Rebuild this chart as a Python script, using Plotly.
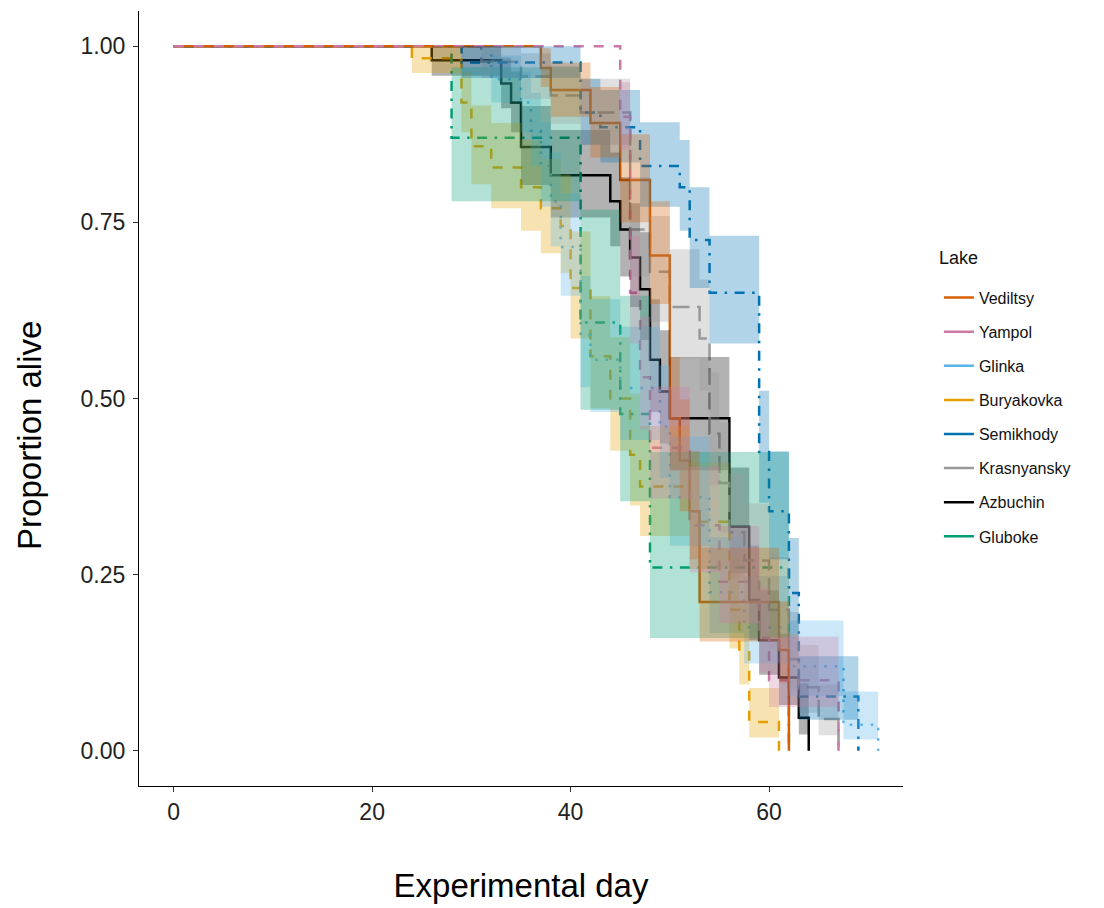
import plotly.graph_objects as go

# Kaplan-Meier survival by lake: step estimates with 95% confidence bands
lakes = ["Vediltsy", "Yampol", "Glinka", "Buryakovka",
         "Semikhody", "Krasnyansky", "Azbuchin", "Gluboke"]

lake_colors = ["#D55E00", "#CC79A7", "#56B4E9", "#E69F00",
               "#0072B2", "#999999", "#000000", "#009E73"]

vediltsy_day = [0, 37, 38, 42, 45, 48, 50, 51, 52, 53, 61, 62]
vediltsy_surv = [1, 0.969, 0.938, 0.891, 0.81, 0.703, 0.472, 0.412, 0.34, 0.211, 0.143, 0]
vediltsy_lower = [1, 0.942, 0.900, 0.842, 0.750, 0.634, 0.398, 0.340, 0.272, 0.155, 0.097, None]
vediltsy_upper = [1, 0.997, 0.977, 0.942, 0.875, 0.780, 0.559, 0.499, 0.425, 0.288, 0.212, None]

yampol_day = [0, 45, 46, 47, 48, 52, 55, 59, 60, 67]
yampol_surv = [1, 0.90, 0.65, 0.53, 0.43, 0.32, 0.24, 0.16, 0.10, 0]
yampol_lower = [1, 0.853, 0.578, 0.456, 0.358, 0.253, 0.181, 0.111, 0.062, None]
yampol_upper = [1, 0.949, 0.731, 0.616, 0.517, 0.404, 0.319, 0.231, 0.162, None]

glinka_day = [0, 32, 35, 36, 37, 38, 39, 41, 42, 45, 49, 50, 54, 57.5, 62, 67.5, 71]
glinka_surv = [1, 0.953, 0.92, 0.88, 0.83, 0.78, 0.715, 0.59, 0.555, 0.515, 0.46, 0.36,
               0.225, 0.175, 0.12, 0.037, 0]
glinka_lower = [1, 0.920, 0.878, 0.830, 0.772, 0.716, 0.646, 0.516, 0.481, 0.441, 0.387, 0.291,
                0.167, 0.124, 0.078, 0.016, None]
glinka_upper = [1, 0.987, 0.964, 0.934, 0.892, 0.849, 0.791, 0.674, 0.641, 0.602, 0.547, 0.446,
                0.303, 0.248, 0.185, 0.084, None]

buryakovka_day = [0, 24, 29, 30, 32, 35, 37, 39, 40, 42, 44, 46, 47, 52, 56, 57, 58, 61]
buryakovka_surv = [1, 0.983, 0.92, 0.858, 0.828, 0.80, 0.77, 0.745, 0.657, 0.56, 0.50, 0.42,
                   0.375, 0.325, 0.20, 0.14, 0.041, 0]
buryakovka_lower = [1, 0.962, 0.878, 0.804, 0.770, 0.738, 0.706, 0.678, 0.585, 0.486, 0.426,
                    0.348, 0.305, 0.258, 0.145, 0.094, 0.019, None]
buryakovka_upper = [1, 1.0, 0.964, 0.916, 0.891, 0.867, 0.840, 0.818, 0.737, 0.645, 0.587,
                    0.507, 0.461, 0.409, 0.275, 0.208, 0.089, None]

semikhody_day = [0, 29, 41, 43, 47, 51, 52, 54, 59, 60, 62, 63, 69]
semikhody_surv = [1, 0.977, 0.906, 0.885, 0.83, 0.80, 0.725, 0.65, 0.424, 0.34, 0.224, 0.077, 0]
semikhody_lower = [1, 0.955, 0.860, 0.835, 0.772, 0.738, 0.657, 0.578, 0.352, 0.272, 0.166,
                   0.044, None]
semikhody_upper = [1, 1.0, 0.954, 0.938, 0.892, 0.867, 0.800, 0.731, 0.511, 0.425, 0.302,
                   0.134, None]

krasnyansky_day = [0, 31, 35, 38, 41, 46, 48, 50, 53, 54, 55, 56, 57.5, 60, 62, 63, 65, 67]
krasnyansky_surv = [1, 0.978, 0.957, 0.93, 0.906, 0.74, 0.68, 0.63, 0.585, 0.45, 0.38, 0.31,
                    0.27, 0.20, 0.13, 0.09, 0.045, 0]
krasnyansky_lower = [1, 0.955, 0.925, 0.890, 0.860, 0.673, 0.609, 0.557, 0.511, 0.377, 0.310,
                     0.244, 0.208, 0.145, 0.086, 0.054, 0.022, None]
krasnyansky_upper = [1, 1.0, 0.990, 0.972, 0.954, 0.814, 0.759, 0.712, 0.669, 0.537, 0.466,
                     0.394, 0.351, 0.275, 0.197, 0.150, 0.094, None]

azbuchin_day = [0, 26, 33, 34, 35, 38, 44, 45, 46, 47, 48, 49, 50, 56, 58, 59, 61, 63, 64]
azbuchin_surv = [1, 0.98, 0.947, 0.92, 0.857, 0.817, 0.78, 0.74, 0.70, 0.655, 0.555, 0.51,
                 0.472, 0.318, 0.214, 0.157, 0.104, 0.047, 0]
azbuchin_lower = [1, 0.958, 0.912, 0.878, 0.803, 0.757, 0.716, 0.673, 0.630, 0.583, 0.481,
                  0.436, 0.398, 0.252, 0.157, 0.108, 0.065, 0.023, None]
azbuchin_upper = [1, 1.0, 0.984, 0.964, 0.915, 0.881, 0.849, 0.814, 0.777, 0.736, 0.641,
                  0.597, 0.559, 0.402, 0.291, 0.228, 0.166, 0.096, None]

gluboke_day = [0, 28, 41, 45, 48, 62]
gluboke_surv = [1, 0.87, 0.608, 0.478, 0.26, 0]
gluboke_lower = [1, 0.78, 0.484, 0.354, 0.16, None]
gluboke_upper = [1, 0.97, 0.768, 0.646, 0.424, None]

x_ticks = [0, 20, 40, 60]
y_ticks = [0, 0.25, 0.50, 0.75, 1.00]

series = {
    "Vediltsy": (vediltsy_day, vediltsy_surv, vediltsy_lower, vediltsy_upper),
    "Yampol": (yampol_day, yampol_surv, yampol_lower, yampol_upper),
    "Glinka": (glinka_day, glinka_surv, glinka_lower, glinka_upper),
    "Buryakovka": (buryakovka_day, buryakovka_surv, buryakovka_lower, buryakovka_upper),
    "Semikhody": (semikhody_day, semikhody_surv, semikhody_lower, semikhody_upper),
    "Krasnyansky": (krasnyansky_day, krasnyansky_surv, krasnyansky_lower, krasnyansky_upper),
    "Azbuchin": (azbuchin_day, azbuchin_surv, azbuchin_lower, azbuchin_upper),
    "Gluboke": (gluboke_day, gluboke_surv, gluboke_lower, gluboke_upper),
}
color_of = dict(zip(lakes, lake_colors))

LW = 2.5
line_dash = {
    "Vediltsy": "solid",
    "Yampol": "10px,10px",
    "Glinka": "2.5px,8px",
    "Buryakovka": "10px,10px",
    "Semikhody": "2.5px,7.5px,10px,7.5px",
    "Krasnyansky": "17px,7.5px",
    "Azbuchin": "solid",
    "Gluboke": "2.5px,7.5px,10px,7.5px",
}

# groups are layered in alphabetical (factor level) order
draw_order = sorted(lakes)


def rgba(hex_color, alpha):
    h = hex_color.lstrip("#")
    r, g, b = int(h[0:2], 16), int(h[2:4], 16), int(h[4:6], 16)
    return f"rgba({r},{g},{b},{alpha})"


fig = go.Figure()

# survival step curves
for lake in draw_order:
    day, surv, _, _ = series[lake]
    fig.add_trace(go.Scatter(
        x=day, y=surv, mode="lines", line_shape="hv",
        line=dict(color=color_of[lake], width=LW, dash=line_dash[lake]),
        showlegend=False, hoverinfo="skip",
    ))

# confidence bands (the last band step runs up to the final event)
for lake in draw_order:
    day, _, lower, upper = series[lake]
    color = color_of[lake]
    lo = lower[:-1] + [lower[-2]]
    hi = upper[:-1] + [upper[-2]]
    fig.add_trace(go.Scatter(
        x=day, y=lo, mode="lines", line_shape="hv",
        line=dict(width=0, color=color), showlegend=False, hoverinfo="skip",
    ))
    fig.add_trace(go.Scatter(
        x=day, y=hi, mode="lines", line_shape="hv",
        line=dict(width=0, color=color), fill="tonexty",
        fillcolor=rgba(color, 0.3), showlegend=False, hoverinfo="skip",
    ))

# legend keys
for lake, color in zip(lakes, lake_colors):
    fig.add_trace(go.Scatter(
        x=[None], y=[None], mode="lines", name=lake, legendgroup=lake,
        line=dict(color=color, width=LW),
    ))

font_family = "Liberation Sans, Arial, sans-serif"

fig.update_layout(
    width=1104, height=908,
    margin=dict(l=139, r=201, t=11, b=122),
    paper_bgcolor="white", plot_bgcolor="white",
    font=dict(family=font_family, color="#222222"),
    showlegend=True,
    legend=dict(
        font=dict(size=16, color="#111111"),
        x=1.047, xanchor="left", y=0.652, yanchor="top",
        tracegroupgap=10.3, traceorder="grouped",
        bgcolor="rgba(0,0,0,0)",
    ),
    xaxis=dict(
        range=[-3.5, 73.5], tickvals=x_ticks, ticktext=[str(v) for v in x_ticks],
        showline=True, linecolor="#000000", linewidth=1.2,
        ticks="outside", ticklen=5, tickcolor="#333333", tickwidth=1.2,
        showgrid=False, zeroline=False,
        tickfont=dict(size=23, color="#222222"),
        title=dict(text="Experimental day", font=dict(size=33, color="#000000"), standoff=50),
    ),
    yaxis=dict(
        range=[-0.05, 1.05], tickvals=y_ticks, tickformat=".2f",
        showline=True, linecolor="#000000", linewidth=1.2,
        ticks="outside", ticklen=5, tickcolor="#333333", tickwidth=1.2,
        ticklabelstandoff=3,
        showgrid=False, zeroline=False,
        tickfont=dict(size=23, color="#222222"),
    ),
    annotations=[
        dict(text="Proportion alive", textangle=-90, showarrow=False,
             xref="paper", yref="paper", x=-0.1427, y=0.453,
             xanchor="center", yanchor="middle",
             font=dict(size=33, color="#000000")),
        dict(text="Lake", showarrow=False, xref="paper", yref="paper",
             x=1.0445, y=0.6813, xanchor="left", yanchor="middle",
             font=dict(size=18, color="#111111")),
    ],
)

fig.write_html("out.html")
